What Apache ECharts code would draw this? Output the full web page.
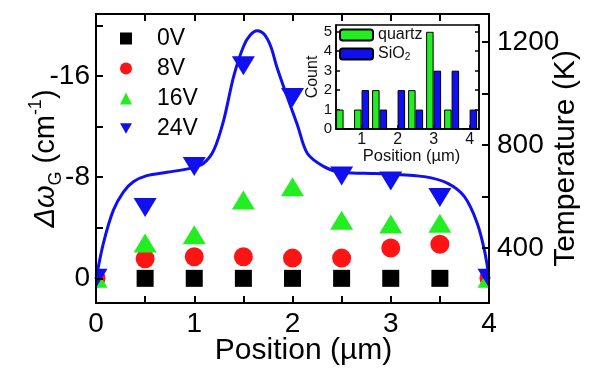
<!DOCTYPE html>
<html><head><meta charset="utf-8">
<script src="https://cdn.jsdelivr.net/npm/echarts@6/dist/echarts.min.js"></script>
<style>html,body{margin:0;padding:0;background:#fff}#c{width:589px;height:374px}</style>
</head><body><div id="c"></div>
<script>
// ---- data ----
const positions = [0, 0.5, 1, 1.5, 2, 2.5, 3, 3.5, 4];
const shift0V  = [null, 0, 0, 0, 0, 0, 0, 0, null];
const shift8V  = [0, -1.55, -1.7, -1.7, -1.6, -1.6, -2.4, -2.7, 0];
const shift16V = [0, -2.8, -3.45, -6.2, -7.25, -4.6, -4.3, -4.35, 0];
const shift24V = [0, -5.6, -8.85, -16.8, -14.3, -8.1, -7.7, -6.4, 0];

const tempPos = [0, 0.075, 0.177, 0.28, 0.38, 0.517, 0.72, 0.96, 1.095, 1.2, 1.3, 1.4, 1.5, 1.57, 1.64, 1.71, 1.78, 1.84, 1.945, 2.05, 2.15, 2.32, 2.49, 2.73, 3.0, 3.34, 3.58, 3.75, 3.88, 3.96, 4.0];
const tempK   = [279, 418, 547, 618, 657, 681, 694, 709, 729, 781, 897, 1065, 1182, 1227, 1244, 1231, 1182, 1104, 988, 878, 768, 716, 694, 690, 687, 677, 651, 599, 496, 379, 279];

const histPos     = [0.5, 1, 1.5, 2, 2.5, 3, 3.5, 4];
const quartzCount = [1, 1, 2, 0, 2, 5, 1, 0];
const sio2Count   = [0, 2, 1, 2, 1, 3, 3, 1];

const shiftLabels = [-16, -8, 0];
const shiftTicks  = [-20, -16, -12, -8, -4, 0];
const tempLabels  = [400, 800, 1200];
const tempTicks   = [400, 600, 800, 1000, 1200];
const histXLabels = [1, 2, 3, 4];

// ---- style ----
const FONT = "'Liberation Sans', Arial, sans-serif";
const BLUE = '#0f0fef', GREEN = '#22ee22', RED = '#ff1414', BLACK = '#000';
const DOWN_TRI = 'path://M0,0L20,0L10,17.3Z';
const pair = (xs, ys) => xs.map((x, i) => [x, ys[i]]);
const line = (w) => ({ show: true, onZero: false, lineStyle: { color: BLACK, width: w } });
const tick = (len, w, extra) => Object.assign({ show: true, inside: true, length: len, lineStyle: { color: BLACK, width: w } }, extra || {});
const plain = v => String(v);

// marker drawn through the axis scales (api.coord) and clipped to the plot area
function markerSeries(name, data, kind, w, h, color, z) {
  return {
    name, type: 'custom', xAxisIndex: 0, yAxisIndex: 0, clip: true, z,
    data, encode: { x: 0, y: 1 },
    itemStyle: { color },
    renderItem: (params, api) => {
      const yv = api.value(1);
      if (yv === null || isNaN(yv)) return null;
      const p = api.coord([api.value(0), yv]);
      const style = { fill: color };
      if (kind === 'rect') return { type: 'rect', shape: { x: p[0] - w / 2, y: p[1] - h / 2, width: w, height: h }, style };
      if (kind === 'circle') return { type: 'circle', shape: { cx: p[0], cy: p[1], r: w / 2 }, style };
      if (kind === 'up') return { type: 'polygon', shape: { points: [[p[0], p[1] - h / 2], [p[0] + w / 2, p[1] + h / 2], [p[0] - w / 2, p[1] + h / 2]] }, style };
      return { type: 'polygon', shape: { points: [[p[0] - w / 2, p[1] - h / 2], [p[0] + w / 2, p[1] - h / 2], [p[0], p[1] + h / 2]] }, style };
    }
  };
}

const chart = echarts.init(document.getElementById('c'), null, { renderer: 'canvas' });
chart.setOption({
  animation: false,
  textStyle: { fontFamily: FONT, color: BLACK },
  grid: [
    { left: 96, right: 100, top: 14, bottom: 71, outerBoundsMode: 'none', containLabel: false },
    { left: 336, right: 110, top: 25, bottom: 245, outerBoundsMode: 'none', containLabel: false,
      show: true, backgroundColor: '#fff', borderColor: BLACK, borderWidth: 1.5 }
  ],
  legend: [
    {
      left: 120, top: 27, orient: 'vertical', padding: 0, itemGap: 7,
      itemWidth: 12, itemHeight: 12, selectedMode: false,
      textStyle: { fontSize: 23, fontFamily: FONT, color: BLACK, lineHeight: 22, padding: [0, 0, 0, 20] },
      data: [
        { name: '0V', icon: 'rect', itemStyle: { color: BLACK } },
        { name: '8V', icon: 'circle', itemStyle: { color: RED } },
        { name: '16V', icon: 'triangle', itemStyle: { color: GREEN } },
        { name: '24V', icon: DOWN_TRI, itemStyle: { color: BLUE } }
      ]
    },
    {
      left: 339, top: 27, orient: 'vertical', padding: 0, itemGap: 3,
      itemWidth: 33, itemHeight: 11, selectedMode: false,
      formatter: n => n === 'SiO2' ? 'SiO{s|2}' : n,
      textStyle: { fontSize: 16, fontFamily: FONT, color: '#111', lineHeight: 16,
        rich: { s: { fontSize: 10, lineHeight: 10, verticalAlign: 'bottom', fontFamily: FONT, color: '#111' } } },
      data: ['quartz', 'SiO2']
    }
  ],
  xAxis: [
    {
      gridIndex: 0, type: 'value', position: 'bottom', min: 0, max: 4, interval: 1, z: 10,
      axisLine: line(2), axisTick: tick(7, 2),
      minorTick: { show: true, splitNumber: 2, length: 7, lineStyle: { color: BLACK, width: 2 } },
      splitLine: { show: false }, minorSplitLine: { show: false },
      axisLabel: { fontSize: 28, color: BLACK, margin: 7, fontFamily: FONT, formatter: plain },
      name: 'Position (µm)', nameLocation: 'middle', nameGap: 33, nameMoveOverlap: false,
      nameTextStyle: { fontSize: 30, color: BLACK, fontFamily: FONT, padding: [0, 0, 0, 22] }
    },
    {
      gridIndex: 0, type: 'value', position: 'top', min: 0, max: 4, interval: 1, z: 10,
      axisLine: line(2), axisTick: tick(7, 2),
      minorTick: { show: true, splitNumber: 2, length: 7, lineStyle: { color: BLACK, width: 2 } },
      splitLine: { show: false }, axisLabel: { show: false }
    },
    {
      gridIndex: 1, type: 'value', position: 'bottom', min: 0.29, max: 4.26,
      axisLine: line(1.5),
      axisTick: tick(4, 1.5, { customValues: histXLabels }),
      splitLine: { show: false },
      axisLabel: { customValues: histXLabels, fontSize: 16, color: '#111', margin: 3, fontFamily: FONT, formatter: plain },
      name: 'Position (µm)', nameLocation: 'middle', nameGap: 19, nameMoveOverlap: false,
      nameTextStyle: { fontSize: 16.5, color: '#111', fontFamily: FONT, padding: [0, 0, 0, 8] }
    }
  ],
  yAxis: [
    {
      gridIndex: 0, type: 'value', position: 'left', inverse: true, min: -20.9, max: 1.95, z: 10,
      axisLine: line(2), splitLine: { show: false },
      axisTick: tick(7, 2, { customValues: shiftTicks }),
      axisLabel: { customValues: shiftLabels, fontSize: 28, color: BLACK, margin: 6, fontFamily: FONT, formatter: plain },
      name: '{i|Δω}{s|G} (cm{p|-1})', nameLocation: 'middle', nameGap: 31, nameRotate: 90, nameMoveOverlap: false,
      nameTextStyle: {
        fontSize: 29, color: BLACK, fontFamily: FONT, lineHeight: 38,
        rich: {
          i: { fontStyle: 'italic', fontSize: 29, lineHeight: 38, fontFamily: FONT, color: BLACK },
          s: { fontSize: 18, lineHeight: 18, verticalAlign: 'bottom', fontFamily: FONT, color: BLACK },
          p: { fontSize: 18, lineHeight: 18, verticalAlign: 'top', fontFamily: FONT, color: BLACK }
        }
      }
    },
    {
      gridIndex: 0, type: 'value', position: 'right', min: 186, max: 1309, z: 10,
      axisLine: line(2), splitLine: { show: false },
      axisTick: tick(7, 2, { customValues: tempTicks }),
      axisLabel: { customValues: tempLabels, fontSize: 28, color: BLACK, margin: 8, fontFamily: FONT, formatter: plain },
      name: 'Temperature (K)', nameLocation: 'middle', nameGap: 62, nameRotate: 90, nameMoveOverlap: false,
      nameTextStyle: { fontSize: 30, color: BLACK, fontFamily: FONT }
    },
    {
      gridIndex: 1, type: 'value', position: 'left', min: 0, max: 5.35, interval: 1,
      axisLine: line(1.5), splitLine: { show: false },
      axisTick: tick(4, 1.5),
      axisLabel: { fontSize: 15, color: '#111', margin: 4, fontFamily: FONT, formatter: plain },
      name: 'Count', nameLocation: 'middle', nameGap: 15, nameRotate: 90, nameMoveOverlap: false,
      nameTextStyle: { fontSize: 16, color: '#111', fontFamily: FONT }
    },
    {
      gridIndex: 1, type: 'value', position: 'right', min: 0, max: 5.35, interval: 1,
      axisLine: line(1.5), splitLine: { show: false },
      axisTick: tick(4, 1.5),
      axisLabel: { show: false }
    }
  ],
  series: [
    {
      name: 'Temperature', type: 'line', xAxisIndex: 0, yAxisIndex: 1,
      data: pair(tempPos, tempK), smooth: 0.3, symbol: 'none',
      lineStyle: { color: BLUE, width: 3 }, z: 1
    },
    markerSeries('0V', pair(positions, shift0V), 'rect', 17, 17, BLACK, 2),
    markerSeries('8V', pair(positions, shift8V), 'circle', 19, 19, RED, 3),
    markerSeries('16V', pair(positions, shift16V), 'up', 23, 19, GREEN, 4),
    markerSeries('24V', pair(positions, shift24V), 'down', 23, 19, BLUE, 5),
    { name: 'quartz', type: 'bar', xAxisIndex: 2, yAxisIndex: 2, data: pair(histPos, quartzCount),
      barWidth: 7.5, barGap: '0%', itemStyle: { color: GREEN, borderColor: BLACK, borderWidth: 1 }, z: 10 },
    { name: 'SiO2', type: 'bar', xAxisIndex: 2, yAxisIndex: 2, data: pair(histPos, sio2Count),
      barWidth: 7.5, barGap: '0%', itemStyle: { color: BLUE, borderColor: BLACK, borderWidth: 1 }, z: 10 }
  ]
});
</script>
</body></html>
